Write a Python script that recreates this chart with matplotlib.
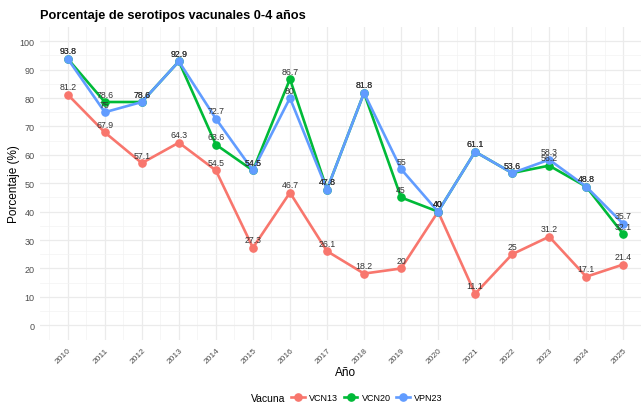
import numpy as np
import matplotlib
matplotlib.use("Agg")
import matplotlib.pyplot as plt
from matplotlib.lines import Line2D

plt.rcParams['font.family'] = ['Liberation Sans', 'DejaVu Sans']

years = list(range(2010, 2026))
vcn13 = [81.2, 67.9, 57.1, 64.3, 54.5, 27.3, 46.7, 26.1, 18.2, 20, 40, 11.1, 25, 31.2, 17.1, 21.4]
vcn20 = [93.8, 78.6, 78.6, 92.9, 63.6, 54.5, 86.7, 47.8, 81.8, 45, 40, 61.1, 53.6, 56.2, 48.8, 32.1]
vpn23 = [93.8, 75, 78.6, 92.9, 72.7, 54.5, 80, 47.8, 81.8, 55, 40, 61.1, 53.6, 58.3, 48.8, 35.7]
series = ["VCN13", "VCN20", "VPN23"]
colors = ["#F8766D", "#00BA38", "#619CFF"]

W, H = 641, 406
fig = plt.figure(figsize=(W / 100, H / 100), dpi=100)
# panel in pixel coords: left 40, right ~651 (cut off by the image edge), top 28, bottom 340.5
ax = fig.add_axes([40 / W, (H - 340.5) / H, (651 - 40) / W, (340.5 - 28) / H])

for name, vals, col in zip(series, [vcn13, vcn20, vpn23], colors):
    ax.plot(years, vals, color=col, lw=1.9, marker="o", ms=5.2, zorder=3, label=name)
for vals in [vcn13, vcn20, vpn23]:
    for x, y in zip(years, vals):
        ax.annotate(f"{y:g}", (x, y), xytext=(0, 2.5), textcoords="offset points",
                    ha="center", va="bottom", fontsize=6.3, color="#333333", zorder=4)

ax.set_xlim(2009.25, 2025.75)
ax.set_ylim(-5, 105)
ax.set_xticks(years)
ax.set_xticks(np.arange(2009.5, 2026, 1), minor=True)
ax.set_yticks(range(0, 101, 10))
ax.set_yticks(range(5, 101, 10), minor=True)
ax.set_xticklabels([str(y) for y in years], rotation=45, ha="right", va="top",
                   rotation_mode="anchor", fontsize=6, color="#4D4D4D")
ax.tick_params(axis="y", labelsize=6.5, labelcolor="#4D4D4D")
ax.tick_params(which="both", length=0, pad=4)
ax.tick_params(axis="x", pad=5)
ax.grid(which="major", color="#EBEBEB", lw=0.9)
ax.grid(which="minor", color="#F3F3F3", lw=0.5)
ax.set_axisbelow(True)
for s in ax.spines.values():
    s.set_visible(False)

ax.set_xlabel("Año", fontsize=8.5, labelpad=1)
ax.set_ylabel("Porcentaje (%)", fontsize=8.5)
ax.yaxis.set_label_coords((20 - 40) / 611, 0.5)
fig.text(40 / W, 1 - 16 / H, "Porcentaje de serotipos vacunales 0-4 años",
         fontsize=9.2, fontweight="bold", va="center", ha="left")

handles = [Line2D([], [], color=c, lw=1.9, marker="o", ms=5.2) for c in colors]
fig.text(285 / W, 1 - 399 / H, "Vacuna", fontsize=7.5, va="center", ha="right")
fig.legend(handles, series, loc="center left", bbox_to_anchor=(285 / W, 1 - 399 / H), ncol=3,
           frameon=False, fontsize=6.5, handlelength=1.5, columnspacing=0.6,
           handletextpad=0.5, borderpad=0.2)

fig.savefig("out.png", dpi=100)
